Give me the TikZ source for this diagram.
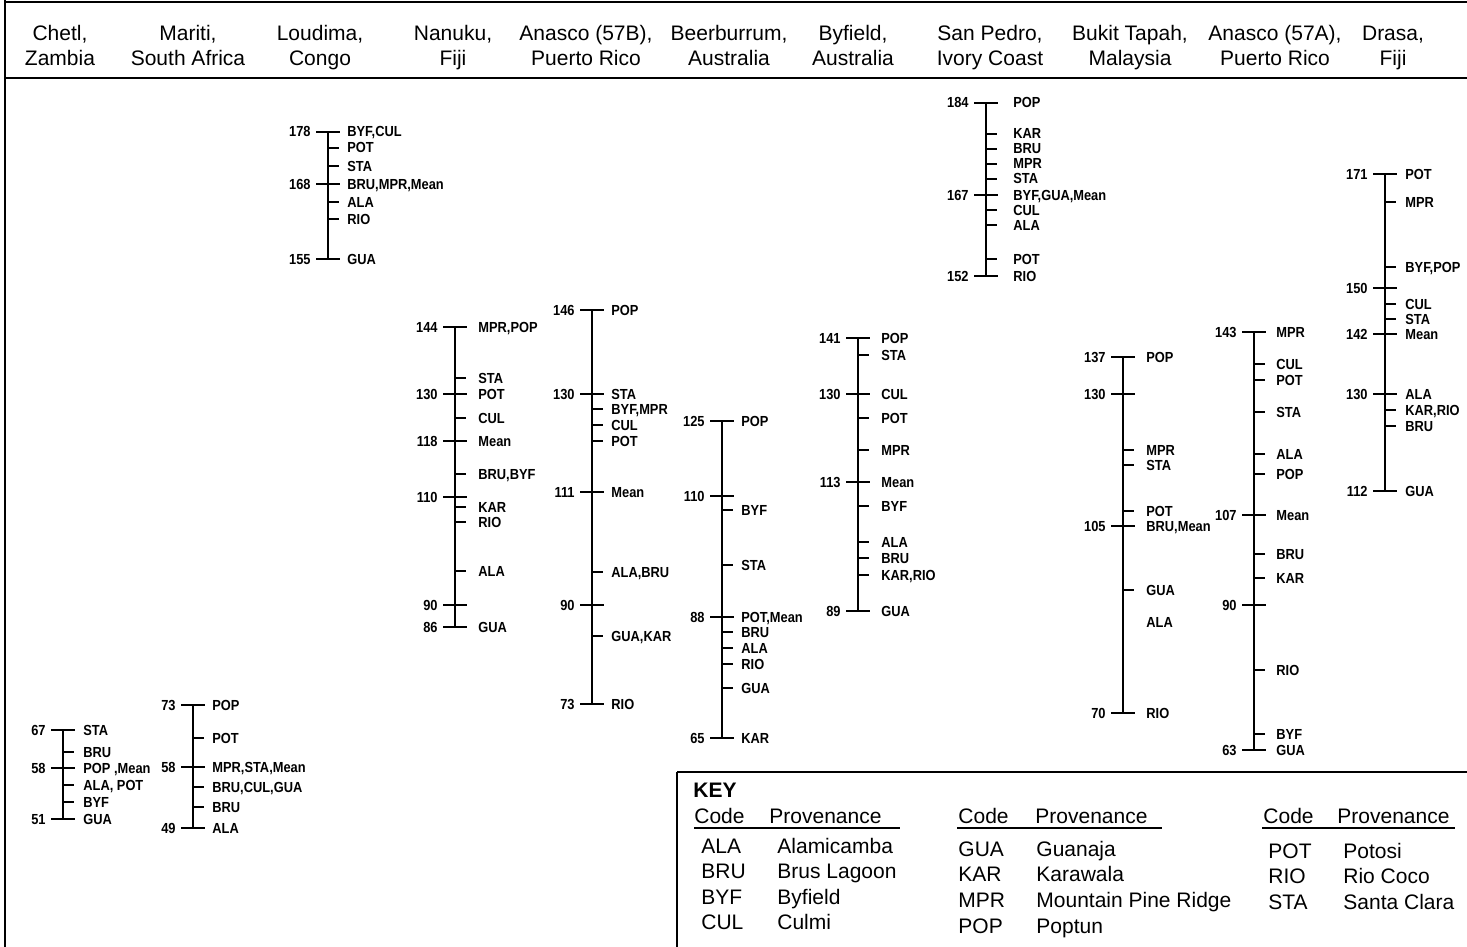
\documentclass[tikz,border=0pt]{standalone}
\usepackage{fontspec}
\setmainfont{Liberation Sans}
\newfontfamily\narrowbf[FakeStretch=0.88]{Liberation Sans Bold}
\newcounter{nd}
\def\lo{19}
\newcommand\mjr[4]{\stepcounter{nd}%
  \draw[tk] ({#1-12},#2) -- ({#1+12},#2);
  \node[num] (n\arabic{nd}) at ({#1-17},{#2+5}) {#3};
  \node[lab] (l\arabic{nd}) at ({#1+\lo},{#2+5}) {#4};}
\newcommand\mnr[3]{\stepcounter{nd}%
  \draw[tk] (#1,#2) -- ({#1+11},#2);
  \node[lab] (l\arabic{nd}) at ({#1+\lo},{#2+5}) {#3};}
\newcommand\hdr[3]{\stepcounter{nd}%
  \node[hd] (h\arabic{nd}a) at (#1,41) {#2};
  \node[hd] (h\arabic{nd}b) at (#1,66) {#3};}
\begin{document}
\begin{tikzpicture}[x=0.5pt,y=-0.5pt,
  tk/.style={line width=0.75pt},
  num/.style={font=\narrowbf\fontsize{7.3}{8}\selectfont, anchor=base east, inner sep=0pt},
  lab/.style={font=\narrowbf\fontsize{7.3}{8}\selectfont, anchor=base west, inner sep=0pt},
  hd/.style={font=\fontsize{10.5}{12}\selectfont, anchor=base, inner sep=0pt},
  ky/.style={font=\fontsize{10.5}{12}\selectfont, anchor=base west, inner sep=0pt},
  frame/.style={line width=0.8pt}]
\useasboundingbox (0,0) rectangle (1467,947);
% frame
\draw[frame] (5,2) -- (1467,2);
\draw[frame] (5,78) -- (1467,78);
\draw[frame] (5,0) -- (5,947);
% headers
\hdr{60}{Chetl,}{Zambia}
\hdr{188}{Mariti,}{South Africa}
\hdr{320}{Loudima,}{Congo}
\hdr{453}{Nanuku,}{Fiji}
\hdr{586}{Anasco (57B),}{Puerto Rico}
\hdr{729}{Beerburrum,}{Australia}
\hdr{853}{Byfield,}{Australia}
\hdr{990}{San Pedro,}{Ivory Coast}
\hdr{1130}{Bukit Tapah,}{Malaysia}
\hdr{1275}{Anasco (57A),}{Puerto Rico}
\hdr{1393}{Drasa,}{Fiji}
% Chetl
\def\lo{20}
\draw[tk] (63,730) -- (63,819);
\mjr{63}{730}{67}{STA}
\mnr{63}{752}{BRU}
\mjr{63}{768}{58}{POP ,Mean}
\mnr{63}{785}{ALA, POT}
\mnr{63}{802}{BYF}
\mjr{63}{819}{51}{GUA}
% Mariti
\def\lo{19}
\draw[tk] (193,705) -- (193,828);
\mjr{193}{705}{73}{POP}
\mnr{193}{738}{POT}
\mjr{193}{767}{58}{MPR,STA,Mean}
\mnr{193}{787}{BRU,CUL,GUA}
\mnr{193}{807}{BRU}
\mjr{193}{828}{49}{ALA}
% Loudima
\draw[tk] (328,132) -- (328,259);
\mjr{328}{132}{178}{BYF,CUL}
\mnr{328}{148}{POT}
\mnr{328}{166}{STA}
\mjr{328}{184}{168}{BRU,MPR,Mean}
\mnr{328}{202}{ALA}
\mnr{328}{219}{RIO}
\mjr{328}{259}{155}{GUA}
% Nanuku
\def\lo{23}
\draw[tk] (455,327) -- (455,627);
\mjr{455}{327}{144}{MPR,POP}
\mnr{455}{378}{STA}
\mjr{455}{394}{130}{POT}
\mnr{455}{418}{CUL}
\mjr{455}{441}{118}{Mean}
\mnr{455}{474}{BRU,BYF}
\mjr{455}{497}{110}{}
\mnr{455}{507}{KAR}
\mnr{455}{522}{RIO}
\mnr{455}{571}{ALA}
\mjr{455}{605}{90}{}
\mjr{455}{627}{86}{GUA}
% Anasco 57B
\def\lo{19}
\draw[tk] (592,310) -- (592,704);
\mjr{592}{310}{146}{POP}
\mjr{592}{394}{130}{STA}
\mnr{592}{409}{BYF,MPR}
\mnr{592}{425}{CUL}
\mnr{592}{441}{POT}
\mjr{592}{492}{111}{Mean}
\mnr{592}{572}{ALA,BRU}
\mjr{592}{605}{90}{}
\mnr{592}{636}{GUA,KAR}
\mjr{592}{704}{73}{RIO}
% Beerburrum
\draw[tk] (722,421) -- (722,738);
\mjr{722}{421}{125}{POP}
\mjr{722}{496}{110}{}
\mnr{722}{510}{BYF}
\mnr{722}{565}{STA}
\mjr{722}{617}{88}{POT,Mean}
\mnr{722}{632}{BRU}
\mnr{722}{648}{ALA}
\mnr{722}{664}{RIO}
\mnr{722}{688}{GUA}
\mjr{722}{738}{65}{KAR}
% Byfield
\def\lo{23}
\draw[tk] (858,338) -- (858,611);
\mjr{858}{338}{141}{POP}
\mnr{858}{355}{STA}
\mjr{858}{394}{130}{CUL}
\mnr{858}{418}{POT}
\mnr{858}{450}{MPR}
\mjr{858}{482}{113}{Mean}
\mnr{858}{506}{BYF}
\mnr{858}{542}{ALA}
\mnr{858}{558}{BRU}
\mnr{858}{575}{KAR,RIO}
\mjr{858}{611}{89}{GUA}
% San Pedro
\def\lo{27}
\draw[tk] (986,103) -- (986,276);
\mjr{986}{103}{184}{POP}
\mnr{986}{134}{KAR}
\mnr{986}{149}{BRU}
\mnr{986}{164}{MPR}
\mnr{986}{179}{STA}
\mjr{986}{195}{167}{BYF,GUA,Mean}
\mnr{986}{210}{CUL}
\mnr{986}{225}{ALA}
\mnr{986}{259}{POT}
\mjr{986}{276}{152}{RIO}
% Bukit Tapah
\def\lo{23}
\draw[tk] (1123,357) -- (1123,713);
\mjr{1123}{357}{137}{POP}
\mjr{1123}{394}{130}{}
\mnr{1123}{450}{MPR}
\mnr{1123}{465}{STA}
\mnr{1123}{511}{POT}
\mjr{1123}{526}{105}{BRU,Mean}
\mnr{1123}{590}{GUA}
\node[lab] (bala) at (1146,627) {ALA};
\mjr{1123}{713}{70}{RIO}
% Anasco 57A
\def\lo{22}
\draw[tk] (1254,332) -- (1254,750);
\mjr{1254}{332}{143}{MPR}
\mnr{1254}{364}{CUL}
\mnr{1254}{380}{POT}
\mnr{1254}{412}{STA}
\mnr{1254}{454}{ALA}
\mnr{1254}{474}{POP}
\mjr{1254}{515}{107}{Mean}
\mnr{1254}{554}{BRU}
\mnr{1254}{578}{KAR}
\mjr{1254}{605}{90}{}
\mnr{1254}{670}{RIO}
\mnr{1254}{734}{BYF}
\mjr{1254}{750}{63}{GUA}
% Drasa
\def\lo{20}
\draw[tk] (1385,174) -- (1385,491);
\mjr{1385}{174}{171}{POT}
\mnr{1385}{202}{MPR}
\mnr{1385}{267}{BYF,POP}
\mjr{1385}{288}{150}{}
\mnr{1385}{304}{CUL}
\mnr{1385}{319}{STA}
\mjr{1385}{334}{142}{Mean}
\mjr{1385}{394}{130}{ALA}
\mnr{1385}{410}{KAR,RIO}
\mnr{1385}{426}{BRU}
\mjr{1385}{491}{112}{GUA}
% Key
\draw[frame] (677,772) -- (1467,772);
\draw[frame] (677,772) -- (677,947);
\node[ky,font=\bfseries\fontsize{10.5}{12}\selectfont] (key) at (693,797) {KEY};
% group 1
\node[ky] (c1) at (694,823) {Code};
\node[ky] (p1) at (769,823) {Provenance};
\draw[tk] (694,828) -- (900,828);
\node[ky] (k11) at (701,853) {ALA}; \node[ky] (v11) at (777,853) {Alamicamba};
\node[ky] (k12) at (701,878) {BRU}; \node[ky] (v12) at (777,878) {Brus Lagoon};
\node[ky] (k13) at (701,904) {BYF}; \node[ky] (v13) at (777,904) {Byfield};
\node[ky] (k14) at (701,929) {CUL}; \node[ky] (v14) at (777,929) {Culmi};
% group 2
\node[ky] (c2) at (958,823) {Code};
\node[ky] (p2) at (1035,823) {Provenance};
\draw[tk] (957,828) -- (1162,828);
\node[ky] (k21) at (958,856) {GUA}; \node[ky] (v21) at (1036,856) {Guanaja};
\node[ky] (k22) at (958,881) {KAR}; \node[ky] (v22) at (1036,881) {Karawala};
\node[ky] (k23) at (958,907) {MPR}; \node[ky] (v23) at (1036,907) {Mountain Pine Ridge};
\node[ky] (k24) at (958,933) {POP}; \node[ky] (v24) at (1036,933) {Poptun};
% group 3
\node[ky] (c3) at (1263,823) {Code};
\node[ky] (p3) at (1337,823) {Provenance};
\draw[tk] (1262,828) -- (1455,828);
\node[ky] (k31) at (1268,858) {POT}; \node[ky] (v31) at (1343,858) {Potosi};
\node[ky] (k32) at (1268,883) {RIO}; \node[ky] (v32) at (1343,883) {Rio Coco};
\node[ky] (k33) at (1268,909) {STA}; \node[ky] (v33) at (1343,909) {Santa Clara};
\end{tikzpicture}
\end{document}
